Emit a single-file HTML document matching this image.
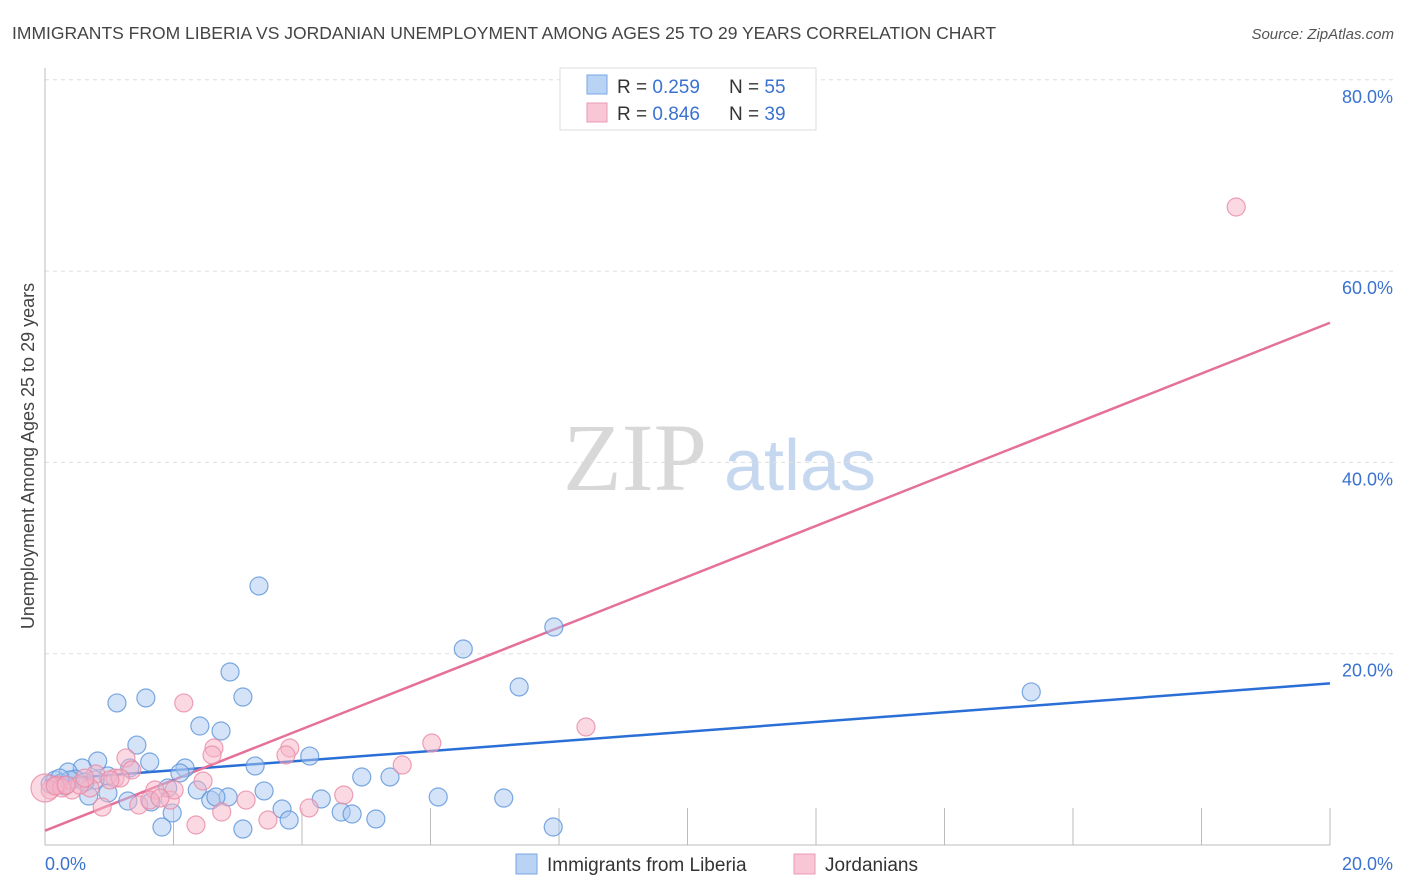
<!DOCTYPE html>
<html><head><meta charset="utf-8"><style>
body{margin:0;background:#fff;}
svg{display:block;font-family:"Liberation Sans",sans-serif;}
</style></head><body>
<svg id="chart" width="1406" height="892" viewBox="0 0 1406 892">
<text x="12" y="39" font-size="17.5" fill="#444">IMMIGRANTS FROM LIBERIA VS JORDANIAN UNEMPLOYMENT AMONG AGES 25 TO 29 YEARS CORRELATION CHART</text>
<text x="1394" y="39" font-size="15" fill="#555" font-style="italic" text-anchor="end">Source: ZipAtlas.com</text>
<g>
<text x="635" y="490" font-size="96" font-family="Liberation Serif,serif" fill="#d8d8d8" text-anchor="middle">ZIP</text>
<text x="800" y="490" font-size="72" fill="#c6d8f0" text-anchor="middle">atlas</text>
</g>
<g id="grid"></g>
<g id="axes"></g>
<g id="lines"></g>
<g id="pts"></g>
<text transform="translate(34,456) rotate(-90)" font-size="18" fill="#444" text-anchor="middle">Unemployment Among Ages 25 to 29 years</text>
<g>
<rect x="560" y="68" width="256" height="62" fill="#fff" stroke="#ddd"/>
<rect x="587" y="75" width="20" height="19" fill="#b9d3f5" stroke="#7aa6e3"/>
<rect x="587" y="103" width="20" height="19" fill="#f8c6d5" stroke="#ea9ab4"/>
<text x="617" y="93" font-size="19" fill="#333">R = <tspan fill="#3a72d0">0.259</tspan></text>
<text x="729" y="93" font-size="19" fill="#333">N = <tspan fill="#3a72d0">55</tspan></text>
<text x="617" y="120" font-size="19" fill="#333">R = <tspan fill="#3a72d0">0.846</tspan></text>
<text x="729" y="120" font-size="19" fill="#333">N = <tspan fill="#3a72d0">39</tspan></text>
</g>
<g>
<rect x="516" y="854" width="21" height="20" fill="#b9d3f5" stroke="#7aa6e3"/>
<text x="547" y="871" font-size="19" fill="#333">Immigrants from Liberia</text>
<rect x="794" y="854" width="21" height="20" fill="#f8c6d5" stroke="#ea9ab4"/>
<text x="825" y="871" font-size="19" fill="#333">Jordanians</text>
</g>
</svg>
<script>
const yTicks=[20,40,60,80];
const yTickLabels=["20.0%","40.0%","60.0%","80.0%"];
const xTickLabels=["0.0%","20.0%"];
const blueX=[3.33,7.92,6.51,7.38,15.35,2.88,1.12,1.57,3.08,2.41,2.74,1.43,4.12,3.27,2.18,0.82,1.32,0.58,0.36,0.98,1.63,2.10,5.37,4.93,0.16,0.25,0.78,0.47,0.08,1.91,2.37,3.41,2.85,2.58,2.66,1.29,1.65,0.68,0.98,4.30,6.12,7.14,3.69,4.61,4.78,5.15,3.80,1.98,1.82,3.08,7.91,0.31,0.39,0.23,0.62];
const blueY=[27.08,22.79,20.49,16.52,16.0,18.09,14.85,15.37,15.47,12.44,11.92,10.45,9.30,8.26,8.05,8.78,8.05,8.05,7.63,7.21,8.68,7.53,7.11,7.11,6.80,6.48,6.80,6.90,6.38,5.96,5.75,5.65,5.02,4.70,5.02,4.60,4.50,5.12,5.44,4.81,5.02,4.91,3.76,3.45,3.24,2.72,2.61,3.35,1.88,1.67,1.88,6.17,6.80,7.0,6.59];
const pinkX=[18.54,2.16,8.42,6.02,2.63,3.81,2.60,3.75,5.56,1.26,1.35,0.79,1.09,2.46,4.65,3.13,1.95,1.71,2.01,1.46,0.89,2.75,3.47,4.11,2.35,0.42,0.20,0.08,0.0,0.26,0.70,0.54,1.63,1.79,1.17,0.16,0.33,1.01,0.62];
const pinkY=[66.70,14.85,12.34,10.66,10.14,10.14,9.41,9.41,8.36,9.10,7.84,7.42,7.0,6.69,5.23,4.70,4.70,5.75,5.75,4.18,3.97,3.45,2.61,3.87,2.09,5.75,6.27,5.75,5.96,5.96,5.96,6.27,4.70,4.91,7.0,6.17,6.27,6.80,7.0];
const trendX=[0,20];
const blueTrend=[6.8,16.9];
const pinkTrend=[1.5,54.6];

const NS="http://www.w3.org/2000/svg";
const X0=45,X1=1330,Y0=845,PXY=9.565;
const sx=v=>X0+(X1-X0)*v/20;
const sy=v=>Y0-v*PXY;
function mk(tag,attrs,parent){const e=document.createElementNS(NS,tag);for(const k in attrs)e.setAttribute(k,attrs[k]);parent.appendChild(e);return e;}
const grid=document.getElementById('grid'),axes=document.getElementById('axes'),lines=document.getElementById('lines'),pts=document.getElementById('pts');
yTicks.forEach((t,i)=>{
  const l=mk('line',{x1:X0,x2:1394,y1:sy(t),y2:sy(t),stroke:'#ddd','stroke-dasharray':'4,4'},grid);
  
  
  const tx=mk('text',{x:1393,y:sy(t)+23,'font-size':18,fill:'#3a72d0','text-anchor':'end'},axes);
  tx.textContent=yTickLabels[i];
  
  
});
const ax=mk('line',{x1:X0,x2:X0,y1:68,y2:Y0,stroke:'#bbb'},axes);


const bx=mk('line',{x1:X0,x2:X1,y1:Y0,y2:Y0,stroke:'#bbb'},axes);


for(let i=1;i<=10;i++){
  const t=mk('line',{x1:sx(i*2),x2:sx(i*2),y1:808,y2:Y0,stroke:'#bbb'},axes);
  
  
}
const xl0=mk('text',{x:45,y:870,'font-size':18,fill:'#3a72d0'},axes);xl0.textContent=xTickLabels[0];


const xl1=mk('text',{x:1393,y:870,'font-size':18,fill:'#3a72d0','text-anchor':'end'},axes);xl1.textContent=xTickLabels[1];


function dots(xs,ys,fill,stroke,name){
  xs.forEach((x,i)=>{
    const r=(x===0)?14:9;
    const c=mk('circle',{cx:sx(x),cy:sy(ys[i]),r:r,fill:fill,'fill-opacity':0.5,stroke:stroke,'stroke-width':1.2,'stroke-opacity':0.8},pts);
    
    
  });
}
dots(blueX,blueY,'#a9c8f0','#5b93d9','point-liberia');
dots(pinkX,pinkY,'#f5b3c7','#e88aa5','point-jordanians');
const bl=mk('line',{x1:sx(trendX[0]),y1:sy(blueTrend[0]),x2:sx(trendX[1]),y2:sy(blueTrend[1]),stroke:'#2a6fd6','stroke-width':2.5},lines);


const pl=mk('line',{x1:sx(trendX[0]),y1:sy(pinkTrend[0]),x2:sx(trendX[1]),y2:sy(pinkTrend[1]),stroke:'#e5709a','stroke-width':2.5},lines);


</script>
</body></html>
